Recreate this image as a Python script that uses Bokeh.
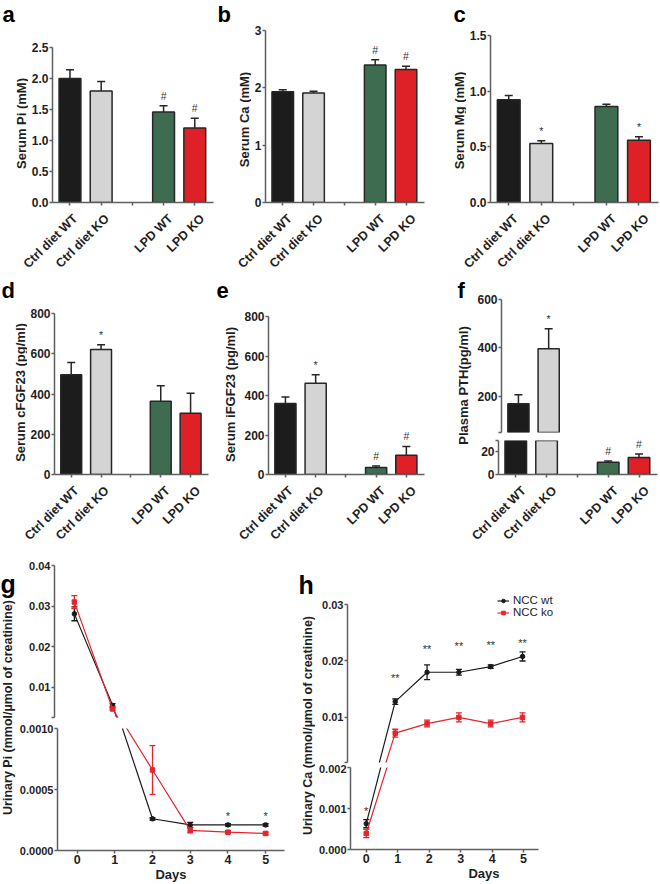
import math
from bokeh.plotting import figure
from bokeh.layouts import row, column
from bokeh.models import Range1d, FixedTicker, Legend, LegendItem, CustomLabelingPolicy
from bokeh.core.properties import value
from bokeh.embed import file_html
from bokeh.resources import INLINE

FONT = "Liberation Sans"
AX = "#5f5f5f"
EDGE = "#262626"
TXT = "#1e1e1e"

# ---------------- data: bar panels ----------------
groups = ["Ctrl diet WT", "Ctrl diet KO", "LPD WT", "LPD KO"]
axis_factors = ["Ctrl diet WT", "Ctrl diet KO", "", "LPD WT", "LPD KO"]
bar_colors = ["#1c1c1c", "#d4d4d4", "#3e6c50", "#de2027"]

pi_mean = [2.0, 1.8, 1.46, 1.2]
pi_err = [0.14, 0.15, 0.1, 0.16]
pi_marks = ["", "", "#", "#"]
pi_ticks = [0, 0.5, 1.0, 1.5, 2.0, 2.5]
pi_tick_labels = ["0.0", "0.5", "1.0", "1.5", "2.0", "2.5"]

ca_mean = [1.93, 1.91, 2.4, 2.32]
ca_err = [0.035, 0.03, 0.09, 0.055]
ca_marks = ["", "", "#", "#"]
ca_ticks = [0, 1, 2, 3]
ca_tick_labels = ["0", "1", "2", "3"]

mg_mean = [0.924, 0.53, 0.862, 0.56]
mg_err = [0.036, 0.025, 0.021, 0.03]
mg_marks = ["", "*", "", "*"]
mg_ticks = [0, 0.5, 1.0, 1.5]
mg_tick_labels = ["0.0", "0.5", "1.0", "1.5"]

cfgf_mean = [496, 621, 364, 304]
cfgf_err = [60, 24, 77, 100]
cfgf_marks = ["", "*", "", ""]
fgf_ticks = [0, 200, 400, 600, 800]
fgf_tick_labels = ["0", "200", "400", "600", "800"]

ifgf_mean = [360, 462, 36, 97]
ifgf_err = [32, 43, 7, 45]
ifgf_marks = ["", "*", "#", "#"]

pth_mean = [169, 396, 10.8, 15]
pth_err = [37, 83, 1.2, 3]
pth_marks = ["", "*", "#", "#"]
pth_upper = (50, 600)
pth_lower = (0, 30)
pth_upper_ticks = [50, 200, 400, 600]
pth_upper_labels = ["", "200", "400", "600"]
pth_lower_ticks = [0, 20, 30]
pth_lower_labels = ["0", "20", ""]

# ---------------- data: time courses ----------------
days = [0, 1, 2, 3, 4, 5]
g_wt = [0.0281, 0.0056, 0.00026, 0.00021, 0.00021, 0.00021]
g_wt_err = [0.0017, 0.0004, 0.00001, 0.00002, 0.00001, 0.00001]
g_ko = [0.031, 0.0047, 0.00066, 0.000165, 0.00015, 0.00014]
g_ko_err = [0.0016, 0.0003, 0.0002, 0.00002, 0.00001, 0.00001]
g_star_day = [4, 5]
g_star_level = [0.00028, 0.00028]
g_star_text = ["*", "*"]
g_upper = (0.0026, 0.04)
g_lower = (0, 0.001)
g_upper_ticks = [0.0026, 0.01, 0.02, 0.03, 0.04]
g_upper_labels = ["", "0.01", "0.02", "0.03", "0.04"]
g_lower_ticks = [0, 0.0005, 0.001]
g_lower_labels = ["0.0000", "0.0005", "0.0010"]

h_wt = [0.00063, 0.0128, 0.018, 0.018, 0.019, 0.0208]
h_wt_err = [0.0001, 0.0005, 0.0013, 0.0005, 0.0003, 0.0008]
h_ko = [0.00039, 0.0072, 0.0089, 0.01, 0.0089, 0.01]
h_ko_err = [0.0001, 0.0007, 0.0006, 0.0008, 0.0006, 0.0008]
h_star_day = [0, 1, 2, 3, 4, 5]
h_star_level = [0.00095, 0.0169, 0.0222, 0.0226, 0.0229, 0.0232]
h_star_text = ["*", "**", "**", "**", "**", "**"]
h_upper = (0.002, 0.03)
h_lower = (0, 0.002)
h_upper_ticks = [0.002, 0.01, 0.02, 0.03]
h_upper_labels = ["", "0.01", "0.02", "0.03"]
h_lower_ticks = [0, 0.001, 0.002]
h_lower_labels = ["0.000", "0.001", "0.002"]

series_names = ["NCC wt", "NCC ko"]
series_colors = ["#1a1a1a", "#e4252c"]
series_markers = ["circle", "square"]

BAR_XR = (-0.56, 4.6)
DAY_XR_G = (-0.52, 5.5)
DAY_XR_H = (-0.5, 5.47)

HIDE_LABELS = "for (const i of indices) { indices.unset(i) }"


def no_align(p):
    try:
        p.frame_align = False
    except Exception:
        pass
    return p


def fig(W, H, L, R, T, B, xr, yr, xaxis=True):
    p = figure(width=W, height=H, x_range=xr, y_range=yr, toolbar_location=None,
               output_backend="svg", min_border_left=L, min_border_right=R,
               min_border_top=T, min_border_bottom=B,
               x_axis_location="below" if xaxis else None)
    no_align(p)
    p.outline_line_color = None
    p.xgrid.visible = False
    p.ygrid.visible = False
    for ax in p.axis:
        ax.axis_line_color = AX
        ax.axis_line_width = 1.5
        ax.major_tick_line_color = AX
        ax.major_tick_line_width = 1.5
        ax.major_tick_out = 3
        ax.major_tick_in = 0
        ax.minor_tick_line_color = None
        ax.major_label_text_font = FONT
        ax.major_label_text_font_style = "bold"
        ax.major_label_text_font_size = "12px"
        ax.major_label_text_color = TXT
        ax.major_label_standoff = 1
        ax.axis_label_text_font = FONT
        ax.axis_label_text_font_style = "bold"
        ax.axis_label_text_font_size = "13px"
        ax.axis_label_text_color = TXT
        ax.axis_label_standoff = 0
    return p


def set_yticks(p, ticks, labels, size=None):
    p.yaxis.ticker = FixedTicker(ticks=ticks)
    p.yaxis.major_label_overrides = {t: l for t, l in zip(ticks, labels)}
    if size:
        p.yaxis.major_label_text_font_size = size


def blank_fig(W, H, xr, yr):
    p = figure(width=W, height=H, x_range=xr, y_range=yr, toolbar_location=None,
               output_backend="svg", min_border=0, x_axis_location=None, y_axis_location=None)
    no_align(p)
    p.outline_line_color = None
    p.xgrid.visible = False
    p.ygrid.visible = False
    p.grid.grid_line_color = None
    return p


def label_fig(W, H, ylabel, cx, cy, let, lx, ly, lsize="22px", ysize="13px"):
    """Strip holding the panel letter and the rotated y-axis title
    (positions in pixels from the strip's top-left corner)."""
    p = blank_fig(W, H, Range1d(0, W), Range1d(0, H))
    p.text(x=[cx], y=[H - cy], text=[ylabel], angle=math.pi / 2, text_align="center",
           text_baseline="middle", text_font=value(FONT), text_font_style="bold",
           text_font_size=ysize, text_color=TXT)
    p.text(x=[lx], y=[H - ly], text=[let], text_align="left", text_baseline="middle",
           text_font=value(FONT), text_font_style="bold", text_font_size=lsize,
           text_color="black")
    return p


def cat_strip(W, H, left_off, frame_w):
    """Strip under a bar panel carrying the slanted category names, on the same
    horizontal scale as the bar panel's frame."""
    ppu = frame_w / (BAR_XR[1] - BAR_XR[0])
    xr = Range1d(BAR_XR[0] - left_off / ppu, BAR_XR[0] + (W - left_off) / ppu)
    p = blank_fig(W, H, xr, Range1d(0, H))
    xs = [axis_factors.index(g) for g in groups]
    p.text(x=xs, y=[H - 2] * len(xs), text=groups, angle=math.pi / 4, x_offset=3,
           text_align="right", text_baseline="top", text_font=value(FONT),
           text_font_style="bold", text_font_size="12.5px", text_color=TXT)
    return p


def bar_panel(W, H, L, R, T, B, yr, mean, err, marks, ticks, labels, xaxis=True):
    p = fig(W, H, L, R, T, B, Range1d(*BAR_XR), Range1d(*yr), xaxis=xaxis)
    xs = [axis_factors.index(g) for g in groups]
    hi = [m + e for m, e in zip(mean, err)]
    vis = [i for i in range(len(xs)) if mean[i] > yr[0]]
    p.vbar(x=[xs[i] for i in vis], top=[mean[i] for i in vis], bottom=0, width=0.7,
           fill_color=[bar_colors[i] for i in vis], line_color=EDGE, line_width=1.5)
    keep = [i for i in range(len(xs)) if yr[0] <= hi[i] <= yr[1]]
    kx = [xs[i] for i in keep]
    ktop = [mean[i] for i in keep]
    khi = [hi[i] for i in keep]
    kmark = [marks[i] for i in keep]
    p.segment(x0=kx, y0=ktop, x1=kx, y1=khi, line_color=EDGE, line_width=1.5)
    p.scatter(x=kx, y=khi, marker="dash", size=8, line_color=EDGE, line_width=1.5)
    p.text(x=kx, y=khi, text=kmark, y_offset=-10, text_align="center", text_baseline="middle",
           text_font=value(FONT), text_font_size="10.5px", text_color="#333333")
    if xaxis:
        # category names are drawn slanted in the strip below; the axis keeps line + ticks
        p.xaxis.ticker = FixedTicker(ticks=list(range(len(axis_factors))))
        p.xaxis.major_label_policy = CustomLabelingPolicy(code=HIDE_LABELS)
        p.xaxis.major_label_text_font_size = "1px"
        p.xaxis.major_label_standoff = 0
    set_yticks(p, ticks, labels)
    return p


def line_panel(W, top_geom, bot_geom, L, R, xr, xbounds, upr, ubounds, lor, series,
               star_day, star_lvl, star_txt, up_ticks, up_labels, lo_ticks, lo_labels):
    Ht, Tt, Bt = top_geom
    Hb, Tb, Bb = bot_geom
    Hu = Ht - Tt - Bt
    Hl = Hb - Tb - Bb
    gap = Bt + Tb
    u0, u1 = upr
    l0, l1 = lor

    def scr(v):  # pixels below the top of the upper frame
        if v > l1:
            return (u1 - v) / (u1 - u0) * Hu
        return Hu + gap + (l1 - v) / (l1 - l0) * Hl

    def to_up(v):
        return u1 - scr(v) * (u1 - u0) / Hu

    def to_lo(v):
        return l1 - (scr(v) - Hu - gap) * (l1 - l0) / Hl

    pu = fig(W, Ht, L, R, Tt, Bt, Range1d(*xr), Range1d(*upr), xaxis=False)
    pl = fig(W, Hb, L, R, Tb, Bb, Range1d(*xr), Range1d(*lor))
    rends = []
    for ys, es, color, marker in series:
        for p, mp, upper in ((pu, to_up, True), (pl, to_lo, False)):
            ln = p.line(days, [mp(v) for v in ys], line_color=color, line_width=1.2)
            idx = [i for i, v in enumerate(ys) if (v > l1) == upper]
            x = [days[i] for i in idx]
            y = [ys[i] for i in idx]
            e = [es[i] for i in idx]
            lo = [a - b for a, b in zip(y, e)]
            hi = [a + b for a, b in zip(y, e)]
            p.segment(x0=x, y0=lo, x1=x, y1=hi, line_color=color, line_width=1.3)
            p.scatter(x=x + x, y=lo + hi, marker="dash", size=6, line_color=color, line_width=1.3)
            sc = p.scatter(x=x, y=y, marker=marker, size=4.5, fill_color=color, line_color=color)
            if upper:
                rends.append((ln, sc))
    for d, lvl, t in zip(star_day, star_lvl, star_txt):
        p = pu if lvl > l1 else pl
        p.text(x=[d], y=[lvl], text=[t], text_align="center", text_baseline="middle",
               text_font=value(FONT), text_font_size="11px", text_color="#333333")
    set_yticks(pu, up_ticks, up_labels, "11px")
    set_yticks(pl, lo_ticks, lo_labels, "11px")
    if ubounds:
        pu.yaxis.bounds = ubounds
    pl.xaxis.ticker = FixedTicker(ticks=days)
    pl.xaxis.bounds = xbounds
    pl.xaxis.major_label_text_font_size = "12.5px"
    pl.xaxis.axis_label = "Days"
    return pu, pl, rends


# ---------------- row 1 (0..277) ----------------
ROW1 = 277
TOP1 = 209
la = label_fig(28, TOP1, "Serum Pi (mM)", 21, 123, "a", 2, 14)
pa = bar_panel(187, TOP1, 21, 2, 47, 3, (0, 2.5), pi_mean, pi_err, pi_marks,
               pi_ticks, pi_tick_labels)
sa = cat_strip(215, ROW1 - TOP1, 28 + 21, 187 - 21 - 2)
lb = label_fig(36, TOP1, "Serum Ca (mM)", 29, 119, "b", 2, 14)
pb = bar_panel(179, TOP1, 13, 6, 30, 3, (0, 3), ca_mean, ca_err, ca_marks,
               ca_ticks, ca_tick_labels)
sb = cat_strip(215, ROW1 - TOP1, 36 + 13, 179 - 13 - 6)
lc = label_fig(36, TOP1, "Serum Mg (mM)", 29, 120, "c", 23, 14)
pc = bar_panel(194, TOP1, 23, 2, 35, 3, (0, 1.5), mg_mean, mg_err, mg_marks,
               mg_ticks, mg_tick_labels)
sc_ = cat_strip(230, ROW1 - TOP1, 36 + 23, 194 - 23 - 2)

# ---------------- row 2 (277..560) ----------------
ROW2 = 283
TOP2 = 204
ld = label_fig(27, TOP2, "Serum cFGF23 (pg/ml)", 20, 115, "d", 1, 13)
pd_ = bar_panel(188, TOP2, 24, 7, 36, 3, (0, 800), cfgf_mean, cfgf_err, cfgf_marks,
                fgf_ticks, fgf_tick_labels)
sd = cat_strip(215, ROW2 - TOP2, 27 + 24, 188 - 24 - 7)
le = label_fig(26, TOP2, "Serum iFGF23 (pg/ml)", 15, 117, "e", 1, 13)
pe = bar_panel(211, TOP2, 24, 28, 39, 3, (0, 800), ifgf_mean, ifgf_err, ifgf_marks,
               fgf_ticks, fgf_tick_labels)
se = cat_strip(237, ROW2 - TOP2, 26 + 24, 211 - 24 - 28)
lf = label_fig(22, TOP2, "Plasma PTH(pg/ml)", 11, 108, "f", 5, 13)
pf_top = bar_panel(186, 159, 24, 3, 22, 4, pth_upper, pth_mean, pth_err, pth_marks,
                   pth_upper_ticks, pth_upper_labels, xaxis=False)
pf_bot = bar_panel(186, TOP2 - 159, 24, 3, 4, 3, pth_lower, pth_mean, pth_err, pth_marks,
                   pth_lower_ticks, pth_lower_labels)
sf = cat_strip(208, ROW2 - TOP2, 22 + 24, 186 - 24 - 3)

# ---------------- row 3 (560..884) ----------------
g_series = [(g_wt, g_wt_err, series_colors[0], series_markers[0]),
            (g_ko, g_ko_err, series_colors[1], series_markers[1])]
lg = label_fig(16, 324, "Urinary Pi (mmol/\u00b5mol of creatinine)", 7, 147, "g", 0, 23,
               "25px", "12.5px")
pg_top, pg_bot, _ = line_panel(282, (162, 5, 5), (162, 6, 33), 38, 14, DAY_XR_G, DAY_XR_G,
                               g_upper, None, g_lower, g_series,
                               g_star_day, g_star_level, g_star_text,
                               g_upper_ticks, g_upper_labels, g_lower_ticks, g_lower_labels)

# panel h: frames reach further right than the x axis (axis bounds) so the legend fits inside
H_EXTRA_PX = 80
h_px_per_day = 190 / (DAY_XR_H[1] - DAY_XR_H[0])
h_xr = (DAY_XR_H[0], DAY_XR_H[1] + H_EXTRA_PX / h_px_per_day)
H_TOP_EXTRA = 0.0025
h_upper_full = (h_upper[0], h_upper[1] + H_TOP_EXTRA)
h_series = [(h_wt, h_wt_err, series_colors[0], series_markers[0]),
            (h_ko, h_ko_err, series_colors[1], series_markers[1])]
lh = label_fig(17, 324, "Urinary Ca (mmol/\u00b5mol of creatinine)", 9, 165, "h", 0, 24,
               "25px", "12.5px")
ph_top, ph_bot, h_rends = line_panel(345, (204, 30, 2), (120, 3, 35), 32, 123 - H_EXTRA_PX,
                                     h_xr, DAY_XR_H, h_upper_full, h_upper, h_lower, h_series,
                                     h_star_day, h_star_level, h_star_text,
                                     h_upper_ticks, h_upper_labels, h_lower_ticks, h_lower_labels)

legend = Legend(items=[LegendItem(label=n, renderers=list(r)) for n, r in zip(series_names, h_rends)],
                location=(150, 144), background_fill_alpha=0, border_line_color=None,
                padding=0, spacing=0, margin=0, label_text_font=FONT,
                label_text_font_size="11.5px", label_text_color=TXT, label_height=9,
                glyph_height=9, glyph_width=12, label_standoff=4)
ph_top.add_layout(legend)

root = column(
    row(column(row(la, pa), sa), column(row(lb, pb), sb), column(row(lc, pc), sc_)),
    row(column(row(ld, pd_), sd), column(row(le, pe), se),
        column(row(lf, column(pf_top, pf_bot)), sf)),
    row(lg, column(pg_top, pg_bot), lh, column(ph_top, ph_bot)),
)

open("out.html", "w").write(file_html(root, INLINE))
